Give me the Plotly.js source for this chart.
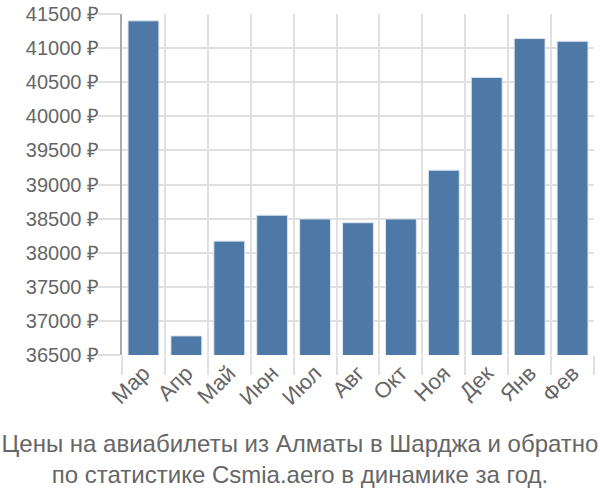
<!DOCTYPE html>
<html><head><meta charset="utf-8">
<script src="https://cdn.plot.ly/plotly-3.0.1.min.js"></script>
<style>body{margin:0;padding:0;}#chart{width:600px;height:500px;}</style>
</head><body><div id="chart"></div>
<script>
const months = ["Мар","Апр","Май","Июн","Июл","Авг","Окт","Ноя","Дек","Янв","Фев"];
const prices = [41400, 36780, 38170, 38550, 38495, 38440, 38495, 39210, 40570, 41140, 41100];
const yTicks = [36500,37000,37500,38000,38500,39000,39500,40000,40500,41000,41500];
const yTickText = yTicks.map(v => v + " ₽");
const titleText = "Цены на авиабилеты из Алматы в Шарджа и обратно<br>по статистике Csmia.aero в динамике за год.";

Plotly.newPlot("chart", [{
  type: "bar",
  x: months,
  y: prices,
  marker: {color: "#4e79a7", line: {color: "#dde6f0", width: 1}},
  hoverinfo: "none"
}], {
  width: 600, height: 500,
  margin: {l: 122, r: 6, t: 14, b: 145},
  paper_bgcolor: "#fff", plot_bgcolor: "#fff",
  bargap: 0.28,
  font: {family: "Liberation Sans, Arial, sans-serif", color: "#666", size: 20},
  title: {text: titleText, x: 0.5, xanchor: "center", y: 0.096, yanchor: "middle", yref: "container",
          font: {size: 24, color: "#666", family: "Liberation Sans, Arial, sans-serif"}},
  xaxis: {
    type: "category", tickson: "boundaries", tickangle: -45,
    showgrid: true, gridcolor: "#e0e0e0", gridwidth: 2,
    ticks: "outside", ticklen: 19, tickcolor: "#e0e0e0", tickwidth: 2,
    showline: false, zeroline: false,
    tickfont: {size: 22, color: "#666"}
  },
  yaxis: {
    range: [36500, 41500], tickvals: yTicks, ticktext: yTickText,
    showgrid: true, gridcolor: "#e0e0e0", gridwidth: 2,
    ticks: "outside", ticklen: 22, tickcolor: "#e0e0e0", tickwidth: 2,
    ticklabelstandoff: -5,
    showline: true, linecolor: "#aaa", linewidth: 2,
    zeroline: false,
    tickfont: {size: 20, color: "#666"}
  },
  showlegend: false
}, {staticPlot: true});
</script></body></html>
